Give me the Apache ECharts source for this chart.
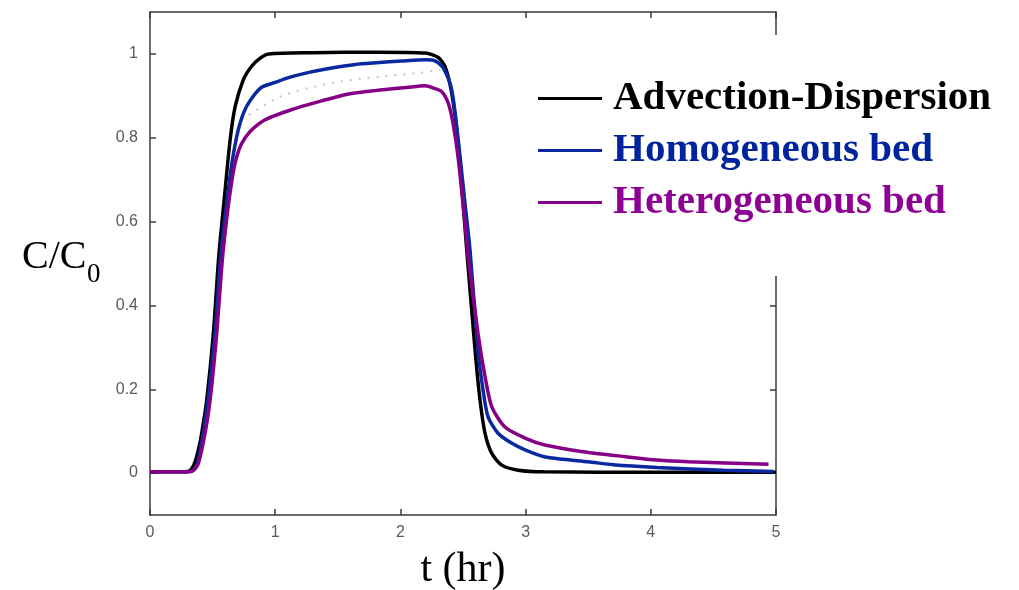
<!DOCTYPE html>
<html>
<head>
<meta charset="utf-8">
<script src="https://cdn.jsdelivr.net/npm/echarts@6/dist/echarts.min.js"></script>
<style>
html,body{margin:0;padding:0;background:#fff;}
#chart{width:1019px;height:590px;}
</style>
</head>
<body>
<div id="chart"></div>
<script>
// ---- data (t in hr, C/C0) ----
const seriesNames = ['Advection-Dispersion', 'Homogeneous bed', 'Heterogeneous bed'];

const adT = [0, 0.16, 0.30, 0.33, 0.36, 0.39, 0.413, 0.453, 0.506, 0.55, 0.60, 0.64, 0.68, 0.745, 0.81, 0.88, 0.95, 1.3, 1.8, 2.2, 2.30, 2.356, 2.41, 2.46, 2.53, 2.596, 2.636, 2.676, 2.73, 2.81, 2.94, 3.15, 4.0, 5.0];
const adC = [0.003, 0.003, 0.004, 0.009, 0.027, 0.06, 0.095, 0.174, 0.333, 0.52, 0.675, 0.795, 0.874, 0.938, 0.97, 0.99, 1.0, 1.003, 1.004, 1.002, 0.992, 0.97, 0.906, 0.79, 0.532, 0.294, 0.174, 0.095, 0.047, 0.019, 0.007, 0.003, 0.002, 0.002];

const homT = [0, 0.16, 0.31, 0.35, 0.38, 0.42, 0.46, 0.52, 0.565, 0.61, 0.65, 0.705, 0.77, 0.88, 1.0, 1.1, 1.27, 1.44, 1.64, 1.81, 2.01, 2.2, 2.28, 2.343, 2.41, 2.46, 2.51, 2.556, 2.62, 2.66, 2.70, 2.78, 2.89, 3.0, 3.15, 3.3, 3.5, 3.7, 4.05, 4.58, 4.98];
const homC = [0.003, 0.003, 0.004, 0.008, 0.025, 0.085, 0.165, 0.333, 0.52, 0.636, 0.731, 0.819, 0.874, 0.918, 0.932, 0.943, 0.956, 0.966, 0.975, 0.979, 0.983, 0.986, 0.983, 0.966, 0.914, 0.8, 0.66, 0.532, 0.294, 0.198, 0.134, 0.095, 0.071, 0.055, 0.039, 0.033, 0.027, 0.02, 0.0135, 0.0067, 0.004];

const hetT = [0, 0.16, 0.32, 0.346, 0.386, 0.44, 0.48, 0.533, 0.575, 0.61, 0.645, 0.68, 0.73, 0.8, 0.92, 1.14, 1.37, 1.576, 1.81, 2.05, 2.196, 2.27, 2.33, 2.383, 2.42, 2.46, 2.516, 2.54, 2.62, 2.676, 2.73, 2.835, 3.0, 3.155, 3.46, 3.8, 4.05, 4.3, 4.94];
const hetC = [0.003, 0.003, 0.003, 0.006, 0.023, 0.095, 0.174, 0.333, 0.5, 0.6, 0.68, 0.74, 0.785, 0.815, 0.843, 0.868, 0.888, 0.904, 0.913, 0.92, 0.924, 0.918, 0.91, 0.882, 0.835, 0.755, 0.596, 0.52, 0.333, 0.23, 0.158, 0.11, 0.083, 0.067, 0.051, 0.039, 0.031, 0.027, 0.021];

const dotT = [0.73, 1.04, 1.44, 1.84, 2.16, 2.32];
const dotC = [0.842, 0.898, 0.93, 0.946, 0.955, 0.962];

const yTicks = [0, 0.2, 0.4, 0.6, 0.8, 1];
const xTicks = [0, 1, 2, 3, 4, 5];

const colors = ['#000000', '#0a28a0', '#860086'];
const legendColors = ['#000000', '#00249c', '#8e0094'];

const pairs = (ts, vs) => ts.map((t, i) => [t, vs[i]]);

const chart = echarts.init(document.getElementById('chart'), null, {renderer: 'canvas'});

const axisLine = {lineStyle: {color: '#3a3a3a', width: 1.5}};
const tickStyle = {lineStyle: {color: '#3a3a3a', width: 1.5}};
const labelFont = {color: '#5a5a5a', fontSize: 16, fontFamily: 'Liberation Sans, Arial, sans-serif'};
const serif = 'Liberation Serif, Times New Roman, serif';

const lineSeries = (name, data, color) => ({
  name, type: 'line', data, xAxisIndex: 0, yAxisIndex: 0,
  showSymbol: false, symbol: 'none', smooth: 0.25,
  lineStyle: {color, width: 3.5}, itemStyle: {color}, z: 3
});

chart.setOption({
  animation: false,
  backgroundColor: '#fff',
  grid: {left: 150, right: 243, top: 12, bottom: 75, containLabel: false},
  xAxis: [
    {type: 'value', position: 'bottom', min: 0, max: 5, interval: 1,
     axisLine: {show: true, onZero: false, ...axisLine}, axisTick: {show: true, inside: true, length: 6, ...tickStyle},
     axisLabel: {show: true, margin: 10, ...labelFont, formatter: v => xTicks.includes(v) ? String(v) : ''},
     splitLine: {show: false}},
    {type: 'value', position: 'top', min: 0, max: 5, interval: 1,
     axisLine: {show: true, onZero: false, ...axisLine}, axisTick: {show: true, inside: true, length: 6, ...tickStyle},
     axisLabel: {show: false}, splitLine: {show: false}}
  ],
  yAxis: [
    {type: 'value', position: 'left', min: -0.1, max: 1.1,
     axisLine: {show: true, onZero: false, ...axisLine},
     axisTick: {show: true, inside: true, length: 6, customValues: yTicks, ...tickStyle},
     axisLabel: {show: true, margin: 12, customValues: yTicks, ...labelFont, formatter: v => String(Math.round(v * 10) / 10)},
     splitLine: {show: false}},
    {type: 'value', position: 'right', min: -0.1, max: 1.1,
     axisLine: {show: true, onZero: false, ...axisLine},
     axisTick: {show: true, inside: true, length: 6, customValues: yTicks, ...tickStyle},
     axisLabel: {show: false}, splitLine: {show: false}}
  ],
  legend: {
    orient: 'vertical', left: 533, top: 71, z: 20,
    itemWidth: 64, itemHeight: 3, itemGap: 7, icon: 'rect',
    selectedMode: false,
    data: seriesNames.map((n, i) => ({name: n, textStyle: {color: legendColors[i]}})),
    textStyle: {fontFamily: serif, fontWeight: 'bold', fontSize: 41, lineHeight: 45, padding: [0, 0, 0, 6]}
  },
  graphic: [
    {type: 'rect', z: 10, shape: {x: 530, y: 35, width: 489, height: 241}, style: {fill: '#fff'}},
    {type: 'text', z: 10, x: 22, y: 257, style: {text: 'C/C', fontFamily: serif, fontSize: 40, fill: '#000', verticalAlign: 'middle', align: 'left'}},
    {type: 'text', z: 10, x: 87, y: 275, style: {text: '0', fontFamily: serif, fontSize: 27, fill: '#000', verticalAlign: 'middle', align: 'left'}},
    {type: 'text', z: 10, x: 463, y: 570, style: {text: 't (hr)', fontFamily: serif, fontSize: 42, fill: '#000', verticalAlign: 'middle', align: 'center'}}
  ],
  series: [
    {name: 'data', type: 'line', data: pairs(dotT, dotC), showSymbol: false, symbol: 'none', smooth: 0.3,
     lineStyle: {color: '#c4c4c4', width: 2, type: [2, 7]}, z: 2, silent: true},
    lineSeries(seriesNames[0], pairs(adT, adC), colors[0]),
    lineSeries(seriesNames[1], pairs(homT, homC), colors[1]),
    lineSeries(seriesNames[2], pairs(hetT, hetC), colors[2])
  ]
});
</script>
</body>
</html>
